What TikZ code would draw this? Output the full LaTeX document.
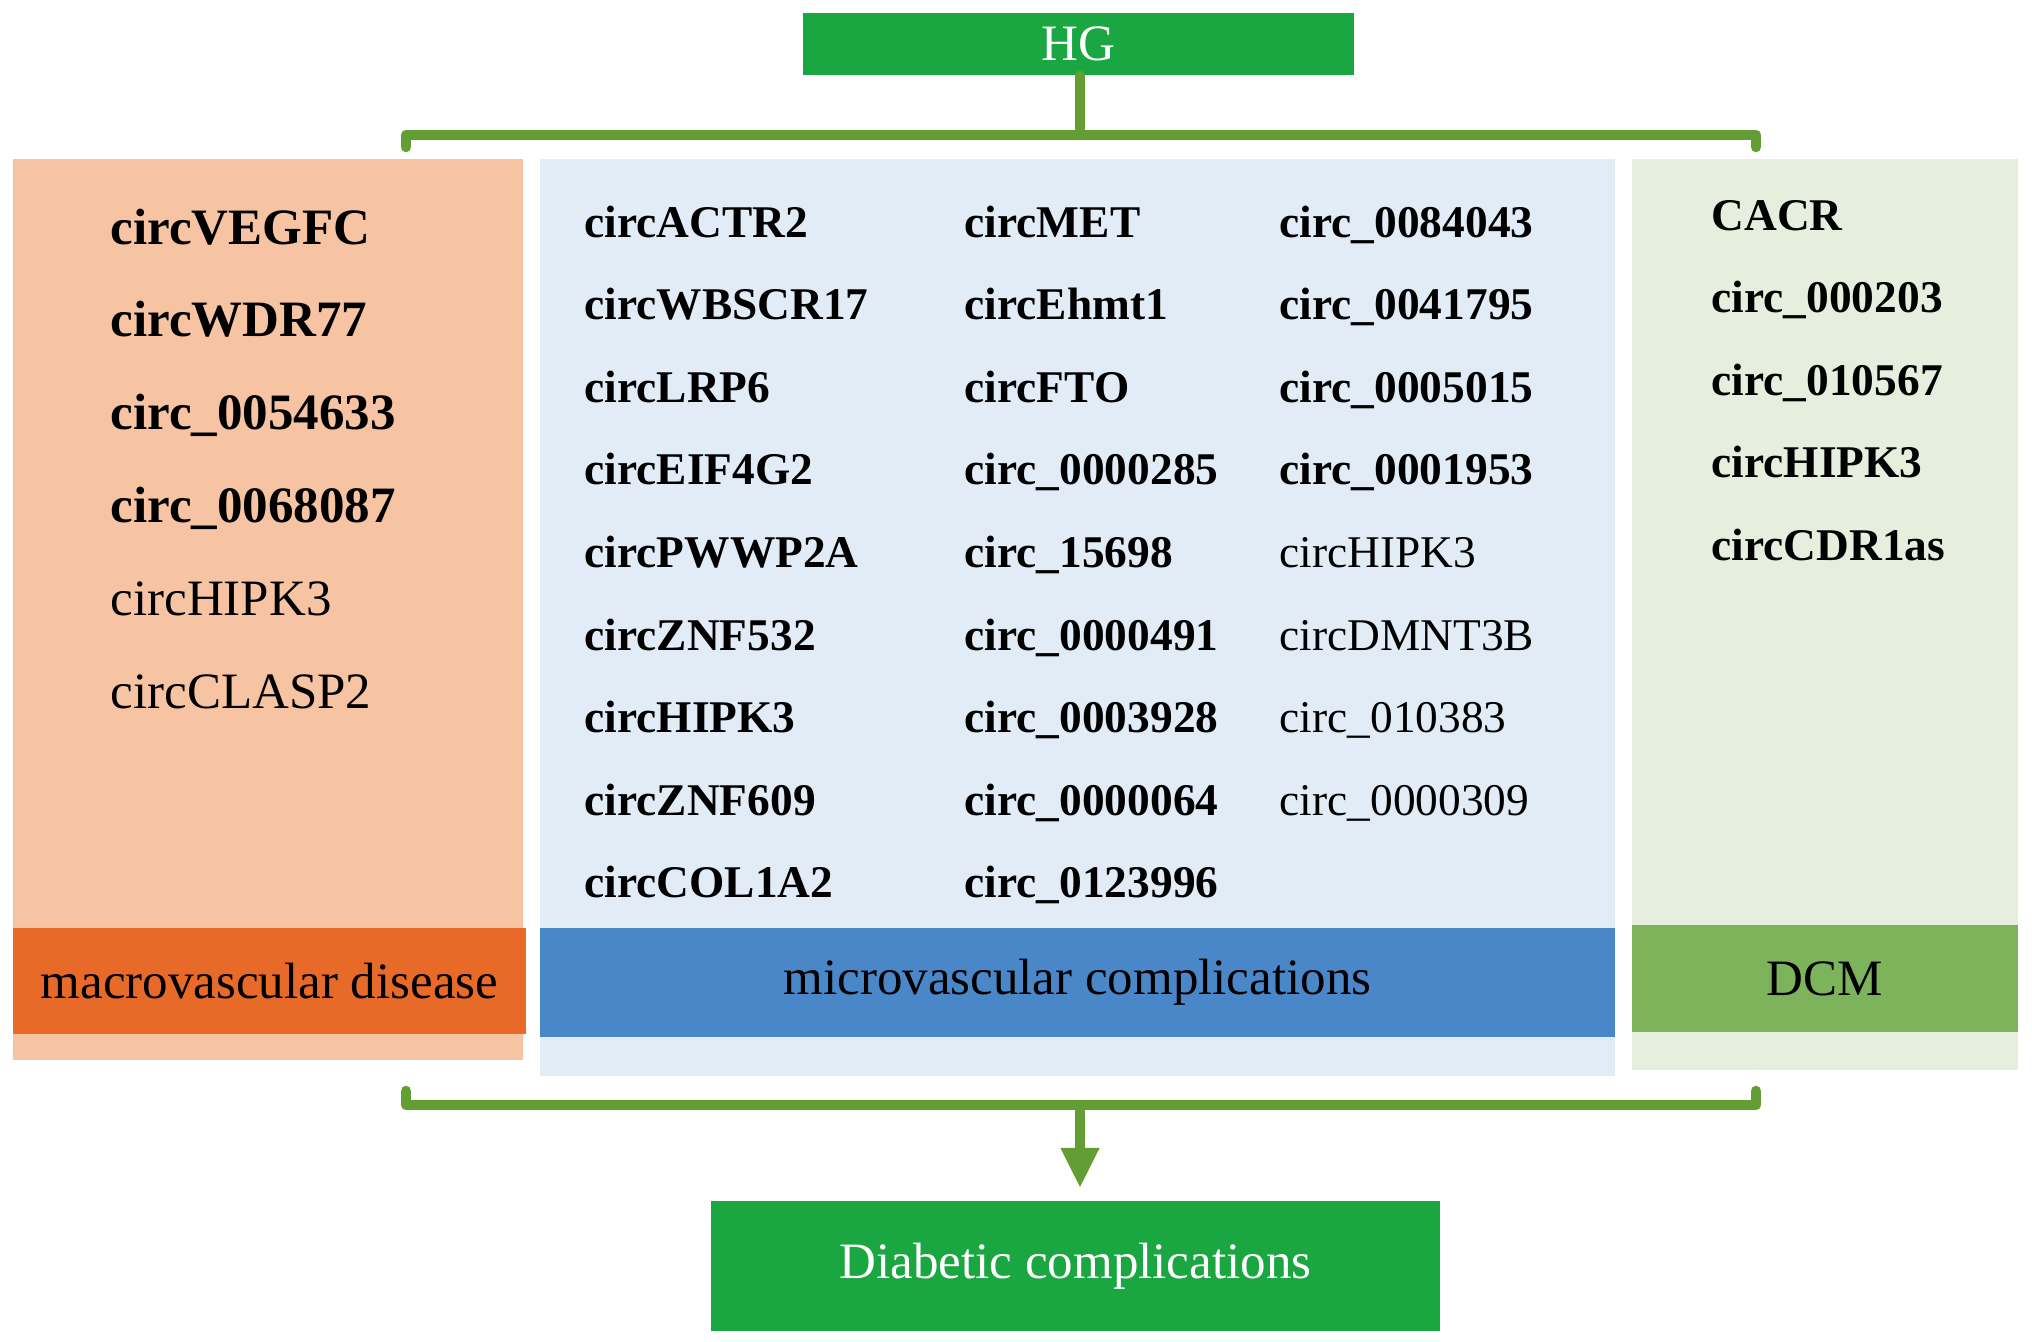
\documentclass[tikz,border=0pt]{standalone}
\usepackage{fontspec}
\setmainfont{Liberation Serif}
\usetikzlibrary{arrows.meta}
\definecolor{hggreen}{RGB}{26,166,64}
\definecolor{brgreen}{RGB}{99,158,52}
\definecolor{peach}{RGB}{246,196,163}
\definecolor{orangelab}{RGB}{232,106,40}
\definecolor{lblue}{RGB}{225,236,247}
\definecolor{bluelab}{RGB}{74,135,200}
\definecolor{lgreen}{RGB}{230,239,222}
\definecolor{greenlab}{RGB}{125,179,90}
\tikzset{
  big/.style={font=\fontsize{14.5pt}{16pt}\selectfont},
  itembig/.style={anchor=base west, inner sep=0pt, font=\fontsize{14.5pt}{16pt}\selectfont\bfseries},
  itembigr/.style={anchor=base west, inner sep=0pt, font=\fontsize{14.5pt}{16pt}\selectfont},
  itemsm/.style={anchor=base west, inner sep=0pt, font=\fontsize{12.9pt}{14pt}\selectfont\bfseries},
  itemsmr/.style={anchor=base west, inner sep=0pt, font=\fontsize{12.9pt}{14pt}\selectfont},
  bracket/.style={draw=brgreen, line width=3pt, line join=round, line cap=round},
  labelbar/.style={draw=none, inner sep=0pt, big, text=black},
  greenbox/.style={draw=none, inner sep=0pt, fill=hggreen, big, text=white},
}
\begin{document}
\begin{tikzpicture}[x=0.01cm,y=-0.01cm]
\useasboundingbox (0,0) rectangle (2032,1342);
% panels
\fill[peach] (13,159) rectangle (523,1060);
\fill[lblue] (540,159) rectangle (1615,1076);
\fill[lgreen] (1632,159) rectangle (2018,1070);
% label bars
\node[labelbar, fill=orangelab, minimum width=5.13cm, minimum height=1.06cm] (macro) at (269.5,981) {macrovascular disease};
\node[labelbar, fill=bluelab, minimum width=10.75cm, minimum height=1.09cm] (micro) at (1077.5,982.5) {microvascular complications};
\node[labelbar, fill=greenlab, minimum width=3.86cm, minimum height=1.07cm] (dcm) at (1825,978.5) {DCM};
% HG box
\node[greenbox, minimum width=5.51cm, minimum height=0.62cm] (hg) at (1078.5,44) {HG};
% Diabetic complications box
\node[greenbox, minimum width=7.29cm, minimum height=1.30cm] (dc) at (1075.5,1266) {Diabetic complications};
% top bracket
\coordinate (tj) at (1080,135);
\coordinate (tl) at (406,135);
\coordinate (tr) at (1756,135);
\draw[bracket] (hg.south -| tj) -- (tj);
\draw[bracket] ([yshift=-0.12cm]tl) -- (tl) -- (tr) -- ([yshift=-0.12cm]tr);
% bottom bracket
\coordinate (bj) at (1080,1105);
\coordinate (bl) at (406,1105);
\coordinate (br) at (1756,1105);
\draw[bracket] ([yshift=0.14cm]bl) -- (bl) -- (br) -- ([yshift=0.14cm]br);
\coordinate (tip) at (1080,1188);
\draw[draw=brgreen, line width=3pt, -{Triangle[length=0.40cm,width=0.36cm]}] (bj) -- (tip);
% left column
\foreach \t [count=\i from 0] in {circVEGFC,circWDR77,circ\_0054633,circ\_0068087}
  \node[itembig] (l\i) at (110,244+92.8*\i) {\t};
\node[itembigr] (l4) at (110,244+92.8*4) {circHIPK3};
\node[itembigr] (l5) at (110,244+92.8*5) {circCLASP2};
% middle columns
\foreach \t [count=\i from 0] in {circACTR2,circWBSCR17,circLRP6,circEIF4G2,circPWWP2A,circZNF532,circHIPK3,circZNF609,circCOL1A2}
  \node[itemsm] (ma\i) at (584,237+82.6*\i) {\t};
\foreach \t [count=\i from 0] in {circMET,circEhmt1,circFTO,circ\_0000285,circ\_15698,circ\_0000491,circ\_0003928,circ\_0000064,circ\_0123996}
  \node[itemsm] (mb\i) at (964,237+82.6*\i) {\t};
\foreach \t [count=\i from 0] in {circ\_0084043,circ\_0041795,circ\_0005015,circ\_0001953}
  \node[itemsm] (mc\i) at (1279,237+82.6*\i) {\t};
\foreach \t [count=\i from 4] in {circHIPK3,circDMNT3B,circ\_010383,circ\_0000309}
  \node[itemsmr] (mc\i) at (1279,237+82.6*\i) {\t};
% right column
\foreach \t [count=\i from 0] in {CACR,circ\_000203,circ\_010567,circHIPK3,circCDR1as}
  \node[itemsm] (r\i) at (1711,230+82.6*\i) {\t};
\end{tikzpicture}
\end{document}
